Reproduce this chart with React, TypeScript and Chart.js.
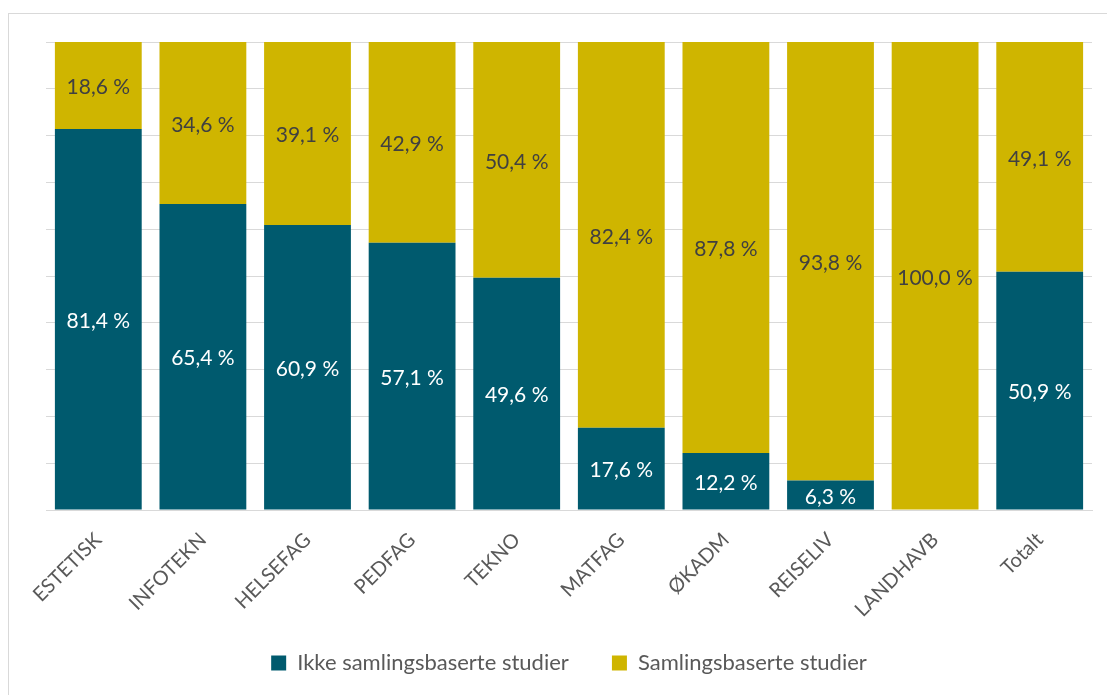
import React, { useEffect, useRef } from "react";
import { Chart, registerables } from "chart.js";

Chart.register(...registerables);

const categories = ["ESTETISK", "INFOTEKN", "HELSEFAG", "PEDFAG", "TEKNO", "MATFAG", "ØKADM", "REISELIV", "LANDHAVB", "Totalt"];
const ikkeSamling = [81.4, 65.4, 60.9, 57.1, 49.6, 17.6, 12.2, 6.3, 0, 50.9];
const samling = [18.6, 34.6, 39.1, 42.9, 50.4, 82.4, 87.8, 93.8, 100.0, 49.1];
const seriesNames = ["Ikke samlingsbaserte studier", "Samlingsbaserte studier"];

const FONT = "Lato, 'Open Sans', sans-serif";

const labelPlugin = {
  id: "segLabels",
  afterDatasetsDraw(chart: any) {
    const ctx = chart.ctx;
    ctx.save();
    ctx.font = `21px ${FONT}`;
    ctx.textAlign = "center";
    ctx.textBaseline = "middle";
    chart.data.datasets.forEach((ds: any, di: number) => {
      const meta = chart.getDatasetMeta(di);
      meta.data.forEach((bar: any, i: number) => {
        const v = ds.data[i];
        if (!v) return;
        const top = Math.min(bar.y, bar.base);
        const bot = Math.max(bar.y, bar.base);
        const y = (top + bot) / 2 + 2;
        ctx.fillStyle = di === 0 ? "#ffffff" : "#404040";
        ctx.fillText(v.toFixed(1).replace(".", ",") + " %", bar.x, y);
      });
    });
    ctx.restore();
  },
};

export default function App() {
  const ref = useRef<HTMLCanvasElement>(null);
  useEffect(() => {
    if (!ref.current) return;
    const chart = new Chart(ref.current, {
      type: "bar",
      data: {
        labels: categories,
        datasets: [
          { label: seriesNames[0], data: ikkeSamling, backgroundColor: "#005A6E", borderWidth: 0, categoryPercentage: 1, barPercentage: 0.83 },
          { label: seriesNames[1], data: samling, backgroundColor: "#CFB500", borderWidth: 0, categoryPercentage: 1, barPercentage: 0.83 },
        ],
      },
      options: {
        animation: false,
        responsive: false,
        maintainAspectRatio: false,
        layout: { padding: { top: 42, left: 46, right: 15, bottom: 11 } },
        scales: {
          x: {
            stacked: true,
            grid: { display: false, drawTicks: false },
            border: { display: true, color: "#d9d9d9", width: 1 },
            ticks: {
              minRotation: 45,
              maxRotation: 45,
              color: "#595959",
              font: { family: FONT, size: 20 },
              padding: 18,
            },
            afterFit: (s: any) => { s.height = 132; },
          },
          y: {
            stacked: true,
            min: 0,
            max: 100,
            ticks: { display: false, stepSize: 10 },
            grid: { color: "#d9d9d9", drawTicks: false, lineWidth: 1 },
            border: { display: false },
            afterFit: (s: any) => { s.width = 0; },
          },
        },
        plugins: {
          legend: {
            position: "bottom",
            labels: {
              color: "#595959",
              font: { family: FONT, size: 22 },
              boxWidth: 15,
              boxHeight: 15,
              padding: 10,
              generateLabels: (chart: any) => {
                const items = Chart.defaults.plugins.legend.labels.generateLabels(chart);
                return items.map((it: any, i: number) =>
                  i < items.length - 1 ? { ...it, text: it.text + "\u2003\u2002 " } : it
                );
              },
            },
          },
          tooltip: { enabled: false },
        },
      } as any,
      plugins: [labelPlugin],
    });
    return () => chart.destroy();
  }, []);
  return (
    <div style={{ position: "fixed", left: 0, top: 0, width: 1107, height: 695, background: "#fff" }}>
      <div style={{ position: "absolute", left: 8, top: 13, width: 1110, height: 690, border: "1px solid #d9d9d9", boxSizing: "border-box" }} />
      <canvas ref={ref} width={1107} height={695} style={{ position: "absolute", left: 0, top: 0 }} />
    </div>
  );
}
